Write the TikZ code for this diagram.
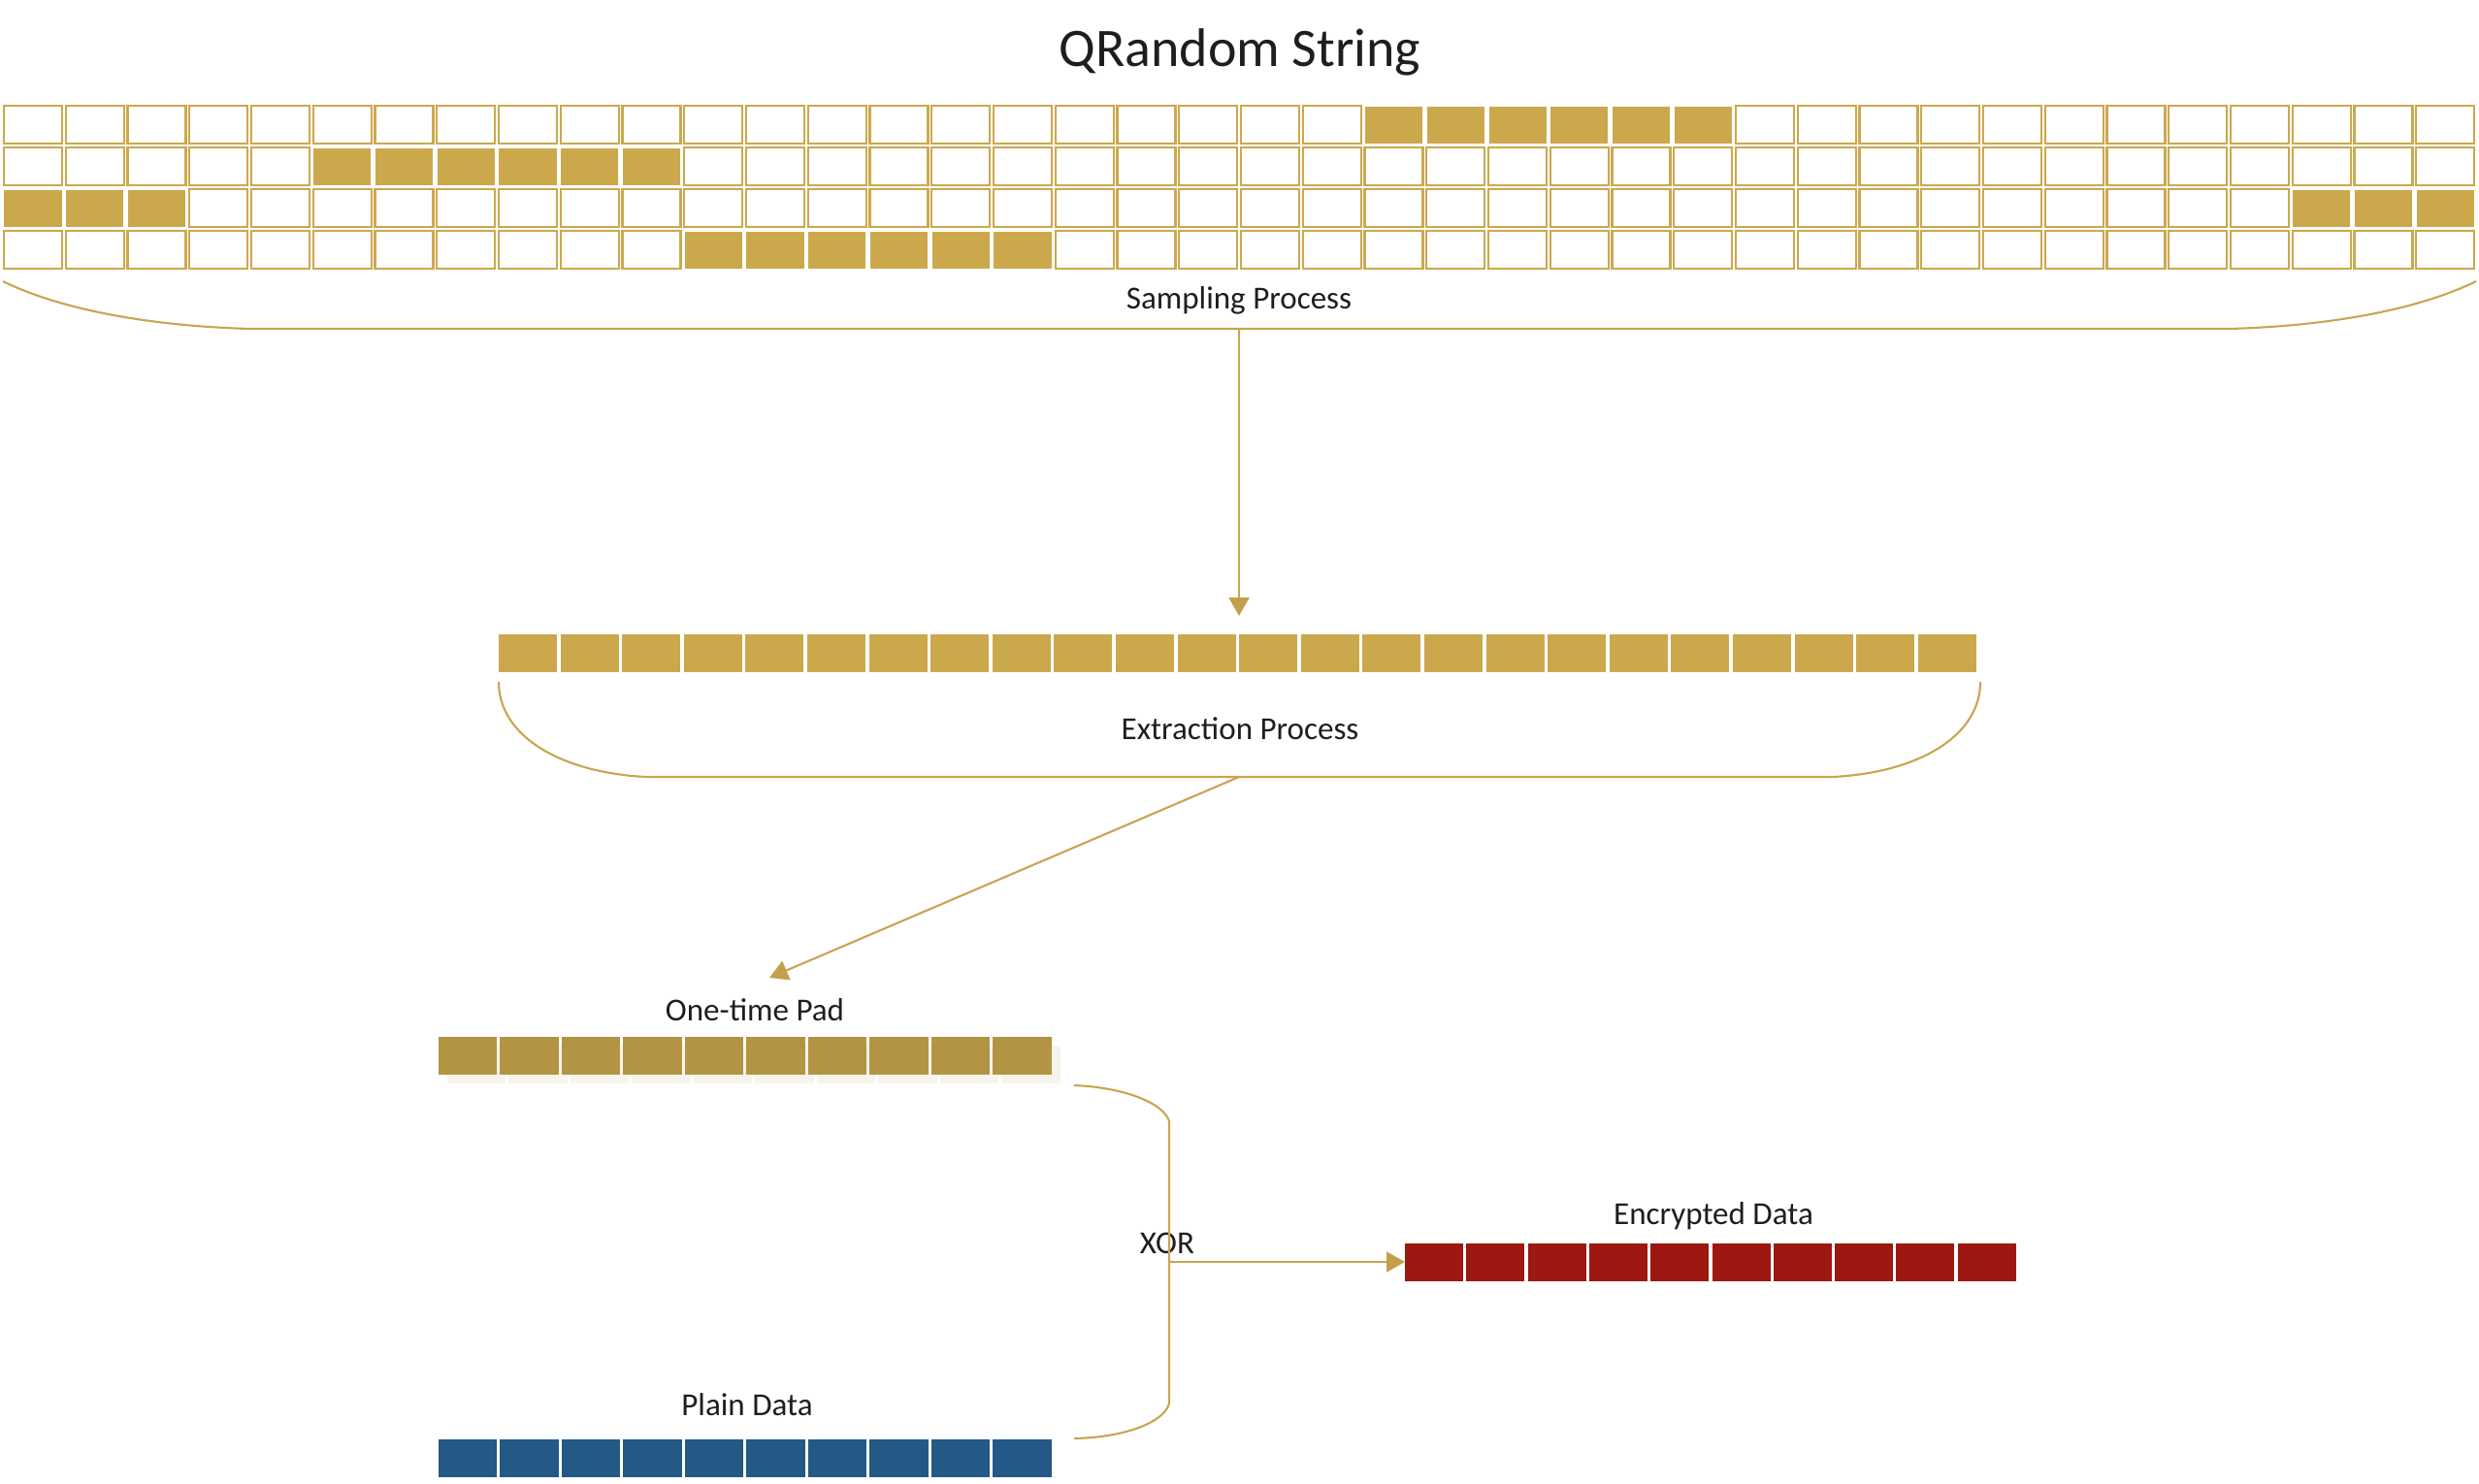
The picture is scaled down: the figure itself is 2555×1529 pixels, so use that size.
\documentclass[tikz,border=0pt]{standalone}
\usepackage{fontspec}
\setmainfont{Carlito}
\usetikzlibrary{arrows.meta}
\definecolor{gold}{HTML}{CCA84D}
\definecolor{goldline}{HTML}{C9A550}
\definecolor{goldtip}{HTML}{C3A04A}
\definecolor{otpc}{HTML}{B39444}
\definecolor{otpshadow}{HTML}{F8F4EC}
\definecolor{bluec}{HTML}{245886}
\definecolor{redc}{HTML}{9C1810}
\definecolor{txt}{HTML}{1E1E1E}
\begin{document}
\begin{tikzpicture}[x=0.01cm,y=-0.01cm,
  lbl/.style={anchor=base, inner sep=0, text=txt, font=\fontsize{9.4pt}{11pt}\selectfont},
  titlelbl/.style={anchor=base, inner sep=0, text=txt, font=\fontsize{15.9pt}{18pt}\selectfont},
  ecell/.style={draw=gold, line width=0.022cm, fill=white, minimum width=0.6cm, minimum height=0.39cm, inner sep=0, outer sep=0},
  fcell/.style={fill=gold, minimum width=0.59cm, minimum height=0.38cm, inner sep=0, outer sep=0},
  bcell/.style={minimum width=0.60cm, minimum height=0.39cm, inner sep=0, outer sep=0},
  conn/.style={draw=goldline, line width=0.021cm},
  tipped/.style={conn, -{Triangle[length=0.19cm,width=0.21cm,color=goldtip]}}
]
\useasboundingbox (0,0) rectangle (2555,1529);

% title
\node[titlelbl] (title) at (1278,68) {QRandom String};

% QRandom grid
\foreach \r/\a/\b/\cc/\dd in {0/22/27/99/99, 1/5/10/99/99, 2/0/2/37/39, 3/11/16/99/99} {
  \foreach \c in {0,...,39} {
    \pgfmathtruncatemacro\isf{((\c>=\a)&&(\c<=\b))||((\c>=\cc)&&(\c<=\dd)) ? 1 : 0}
    \ifnum\isf=1
      \node[fcell] (g\r-\c) at ({34+63.75*\c},{128.5+43*\r}) {};
    \else
      \node[ecell] (g\r-\c) at ({34+63.75*\c},{128.5+43*\r}) {};
    \fi
  }
}

% extracted row
\foreach \i in {0,...,23} {
  \node[bcell, fill=gold, minimum height=0.39cm] (x\i) at ({544+63.6*\i},673) {};
}

% one-time pad row with faint shadow
\foreach \i in {0,...,9} {
  \node[bcell, fill=otpshadow] (os\i) at ({491+63.5*\i},1097.5) {};
}
\foreach \i in {0,...,9} {
  \node[bcell, fill=otpc] (o\i) at ({482+63.5*\i},1088.5) {};
}

% encrypted row
\foreach \i in {0,...,9} {
  \node[bcell, fill=redc] (c\i) at ({1478+63.3*\i},1301.5) {};
}

% plain row
\foreach \i in {0,...,9} {
  \node[bcell, fill=bluec] (p\i) at ({482+63.5*\i},1503.5) {};
}

% labels
\node[lbl] (samp) at (1277,318) {Sampling Process};
\node[lbl] (extr) at (1278,762) {Extraction Process};
\node[lbl] (otpl) at (778,1052) {One-time Pad};
\node[lbl] (encl) at (1766,1262) {Encrypted Data};
\node[lbl] (plainl) at (770,1459) {Plain Data};
\node[lbl] (xorl) at (1203,1292) {XOR};

% connector coordinates
\coordinate (sbL) at (3,290);
\coordinate (sbR) at (2552,290);
\coordinate (sbB) at (1277,339);
\coordinate (eIn) at (1277,635);
\coordinate (ebL) at (514,703);
\coordinate (ebR) at (2041,703);
\coordinate (ebB) at (1277,801);
\coordinate (oIn) at (793,1008);
\coordinate (xT) at (1107,1119);
\coordinate (xB) at (1107,1483);
\coordinate (xM) at (1205,1301);
\coordinate (cIn) at (1448,1301);

% sampling brace
\draw[conn] (sbL) .. controls (60,318) and (150,336) .. (258,339) -- (2297,339)
  .. controls (2405,336) and (2495,318) .. (sbR);
\draw[tipped] (sbB) -- (eIn);

% extraction brace
\draw[conn] (ebL) .. controls (514,760) and (580,797) .. (667,801) -- (1888,801)
  .. controls (1975,797) and (2041,760) .. (ebR);
\draw[tipped] (ebB) -- (oIn);

% XOR bracket
\draw[conn] (xT) .. controls (1160,1121) and (1200,1138) .. (1205,1156) -- (1205,1447)
  .. controls (1200,1466) and (1160,1482) .. (xB);
\draw[tipped] (xM) -- (cIn);
\end{tikzpicture}
\end{document}
